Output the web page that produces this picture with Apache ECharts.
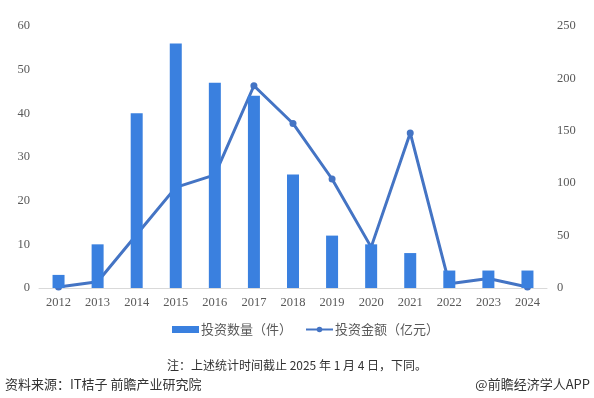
<!DOCTYPE html>
<html>
<head>
<meta charset="utf-8">
<script src="https://cdn.jsdelivr.net/npm/echarts@6/dist/echarts.min.js"></script>
<style>
  html, body { margin: 0; padding: 0; background: #fff; }
  #chart { width: 594px; height: 398px; }
</style>
</head>
<body>
<div id="chart"></div>
<script>
// 年份
var years = ["2012", "2013", "2014", "2015", "2016", "2017", "2018", "2019", "2020", "2021", "2022", "2023", "2024"];
// 投资数量（件）
var dealCount = [3, 10, 40, 56, 47, 44, 26, 12, 10, 8, 4, 4, 4];
// 投资金额（亿元）
var dealAmount = [1, 6, 51, 96, 108, 193, 157, 104, 39, 148, 4, 9, 1];

var serif = "'Liberation Serif', 'Times New Roman', serif";
var cjk = "'Noto Sans CJK SC', sans-serif";

var chart = echarts.init(document.getElementById("chart"));
chart.setOption({
  animation: false,
  grid: { left: 39, right: 47, top: 26, bottom: 110 },
  legend: {
    top: 318,
    left: 167,
    itemGap: 13,
    itemWidth: 27,
    itemHeight: 7,
    textStyle: { fontFamily: cjk, fontSize: 13, color: "#595959", padding: [0, 0, 0, -3] },
    data: [
      { name: "投资数量（件）", icon: "rect" },
      { name: "投资金额（亿元）" }
    ]
  },
  xAxis: {
    type: "category",
    data: years,
    axisTick: { show: false },
    axisLine: { lineStyle: { color: "#d9d9d9", width: 1 } },
    axisLabel: { fontFamily: serif, fontSize: 12.5, color: "#595959", margin: 8 }
  },
  yAxis: [
    {
      type: "value",
      min: 0,
      max: 60,
      interval: 10,
      splitLine: { show: false },
      axisLine: { show: false },
      axisTick: { show: false },
      axisLabel: { fontFamily: serif, fontSize: 12.5, color: "#595959", margin: 9 }
    },
    {
      type: "value",
      min: 0,
      max: 250,
      interval: 50,
      splitLine: { show: false },
      axisLine: { show: false },
      axisTick: { show: false },
      axisLabel: { fontFamily: serif, fontSize: 12.5, color: "#595959", margin: 10 }
    }
  ],
  series: [
    {
      name: "投资金额（亿元）",
      type: "line",
      yAxisIndex: 1,
      z: 1,
      data: dealAmount,
      symbol: "circle",
      symbolSize: 7,
      lineStyle: { color: "#4474c4", width: 3 },
      itemStyle: { color: "#4474c4" }
    },
    {
      name: "投资数量（件）",
      type: "bar",
      yAxisIndex: 0,
      z: 3,
      barWidth: 12,
      data: dealCount,
      itemStyle: { color: "#3a80df" }
    }
  ],
  graphic: [
    {
      type: "text",
      left: "center",
      top: 359,
      style: { text: "注：上述统计时间截止 2025 年 1 月 4 日，下同。", font: "12px " + cjk, fill: "#333" }
    },
    {
      type: "text",
      left: 5,
      top: 378,
      style: { text: "资料来源：IT桔子 前瞻产业研究院", font: "13px " + cjk, fill: "#333" }
    },
    {
      type: "text",
      right: 4,
      top: 378,
      style: { text: "@前瞻经济学人APP", font: "13px " + cjk, fill: "#333" }
    }
  ]
});
</script>
</body>
</html>
